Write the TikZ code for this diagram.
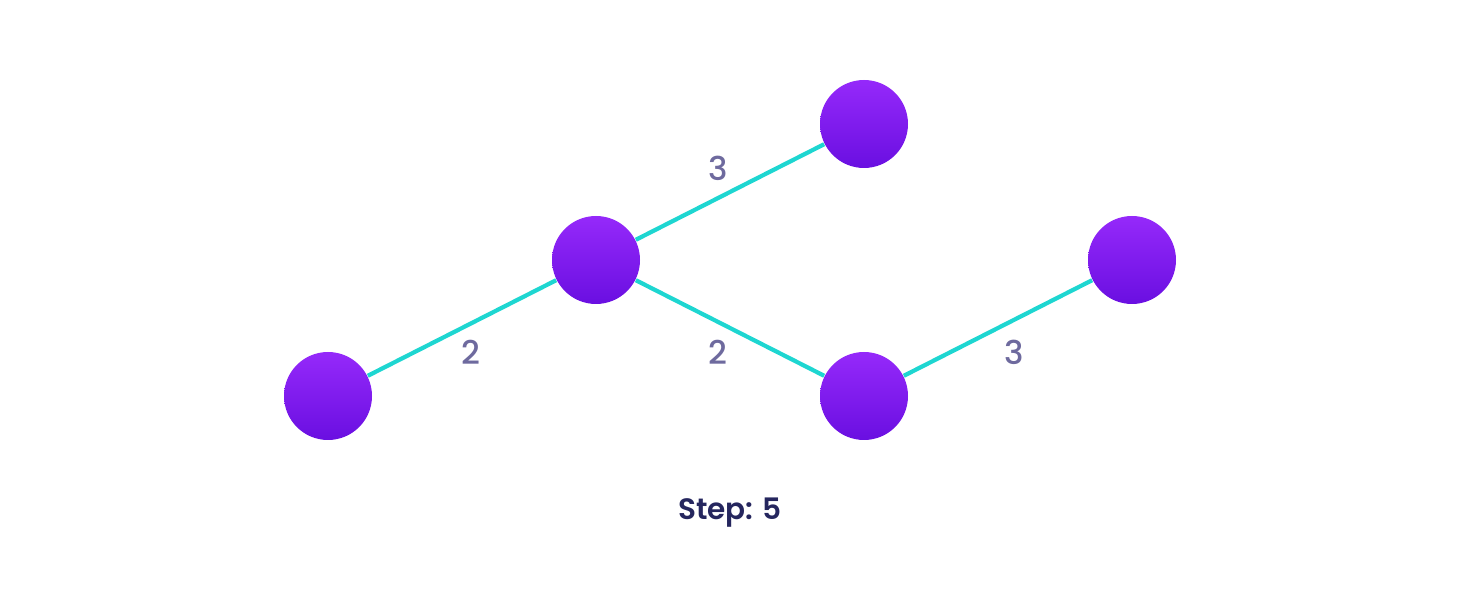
\documentclass[tikz,border=0pt]{standalone}
\usepackage{fontspec}
\setmainfont{Poppins}
\newfontfamily\medfont{Poppins}[UprightFont=*-Medium]
\newfontfamily\semifont{Poppins}[UprightFont=*-SemiBold]
\usetikzlibrary{positioning}
\definecolor{vtop}{HTML}{9529FA}
\definecolor{vbot}{HTML}{6A0FE1}
\definecolor{edgecol}{HTML}{1ED6D1}
\definecolor{wcol}{HTML}{6E6A9E}
\definecolor{stepcol}{HTML}{25265E}

\begin{document}
\begin{tikzpicture}[node distance=1.36cm and 2.68cm, on grid,
    vertex/.style={circle, minimum size=0.88cm, inner sep=0pt, top color=vtop, bottom color=vbot, draw=none},
    edge/.style={draw=edgecol, line width=1.2pt},
    weight/.style={text=wcol, font=\fontsize{9.3}{10}\selectfont\medfont, inner sep=0pt}]

    % Set frame
    \useasboundingbox (0,0) rectangle (14.6,6.12);

    % Set vertices
    \node[vertex] (a) at (3.28,2.16) {};
    \node[vertex, above right=of a] (b) {};
    \node[vertex, above right=of b] (c) {};
    \node[vertex, below right=of b] (d) {};
    \node[vertex, above right=of d] (e) {};

    % Draw edges
    \draw[edge] (a) -- node[weight, xshift=0.09cm, yshift=-0.24cm] {2} (b);
    \draw[edge] (b) -- node[weight, xshift=-0.12cm, yshift=0.24cm] {3} (c);
    \draw[edge] (b) -- node[weight, xshift=-0.12cm, yshift=-0.24cm] {2} (d);
    \draw[edge] (d) -- node[weight, xshift=0.16cm, yshift=-0.24cm] {3} (e);

    % Caption
    \node[text=stepcol, font=\fontsize{8.4}{10}\selectfont\semifont] (step) at (7.30,0.99) {Step: 5};
  \end{tikzpicture}
\end{document}
